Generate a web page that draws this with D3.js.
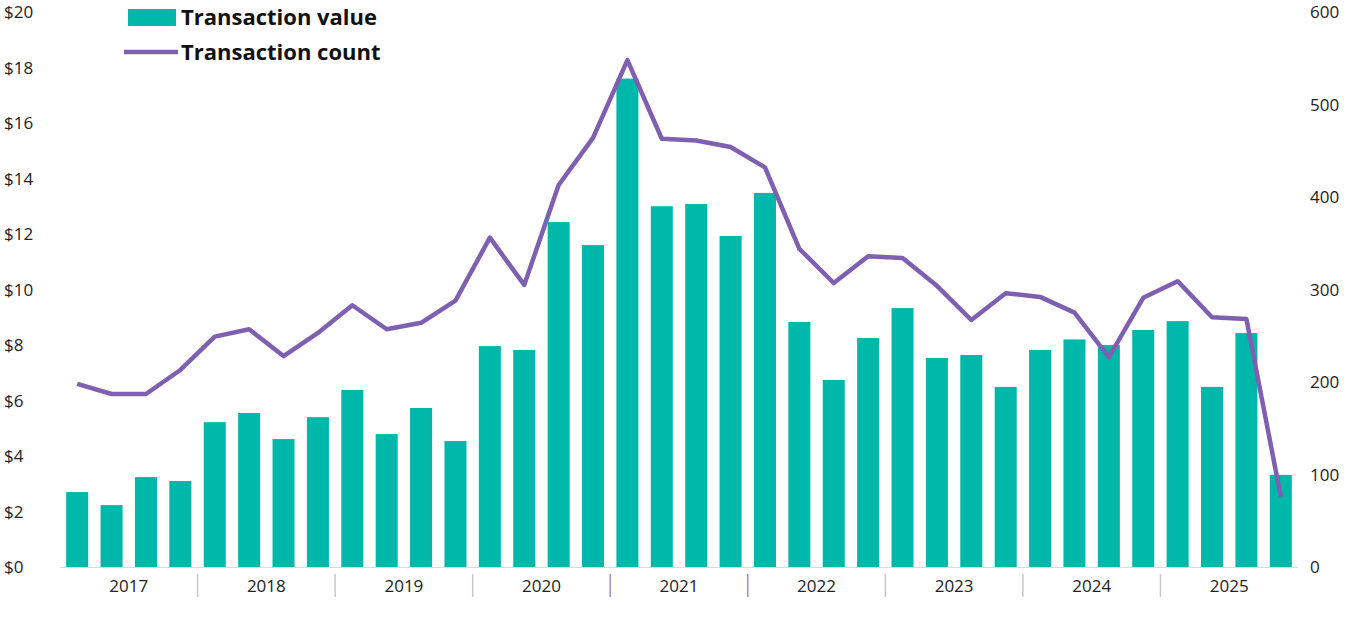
<!DOCTYPE html>
<html><head><meta charset="utf-8">
<script src="https://cdn.jsdelivr.net/npm/d3@7"></script>
<style>body{margin:0;background:#fff;font-family:"Open Sans",sans-serif}</style>
</head><body><svg id="c" width="1360" height="617"></svg>
<script>
const years=["2017","2018","2019","2020","2021","2022","2023","2024","2025"];
const quarters=[];years.forEach(y=>["Q1","Q2","Q3","Q4"].forEach(q=>quarters.push(y+" "+q)));
const txValue=[2.7,2.23,3.24,3.1,5.22,5.55,4.61,5.4,6.38,4.79,5.73,4.54,7.96,7.82,12.43,11.6,17.6,13.0,13.08,11.93,13.48,8.83,6.74,8.25,9.33,7.53,7.64,6.49,7.82,8.2,8.0,8.54,8.86,6.49,8.43,3.32];
const txCount=[198,187,187,213,249,257,228,253,283,257,264,288,356,305,413,464,548,463,461,454,432,344,307,336,334,304,267,296,292,275,227,291,309,270,268,76];
const leftTicks=[0,2,4,6,8,10,12,14,16,18,20];
const rightTicks=[0,100,200,300,400,500,600];

const svg=d3.select("#c");
const x=d3.scaleBand().domain(quarters).range([60,1298]).paddingInner(0.36).paddingOuter(0.18);
const yL=d3.scaleLinear().domain([0,20]).range([567,12]);
const yR=d3.scaleLinear().domain([0,600]).range([567,12]);

svg.append("g").selectAll("text").data(leftTicks).join("text")
 .attr("x",4).attr("y",d=>yL(d)+6).attr("font-size",17).attr("fill","#222").text(d=>"$"+d);
svg.append("g").selectAll("text").data(rightTicks).join("text")
 .attr("x",1310).attr("y",d=>yR(d)+6).attr("font-size",17).attr("fill","#222").text(d=>d);

svg.append("line").attr("x1",60).attr("x2",1298).attr("y1",567.5).attr("y2",567.5).attr("stroke","#d9d9d9");

svg.append("g").selectAll("rect").data(txValue).join("rect")
 .attr("x",(d,i)=>x(quarters[i])).attr("width",x.bandwidth())
 .attr("y",d=>yL(d)).attr("height",d=>yL(0)-yL(d)).attr("fill","#00b8a9");

svg.append("path").datum(txCount).attr("fill","none").attr("stroke","#7f5fb0").attr("stroke-width",4.5)
 .attr("stroke-linejoin","round")
 .attr("d",d3.line().x((d,i)=>x(quarters[i])+x.bandwidth()/2).y(d=>yR(d)));

// year labels & separators
const step=x.step();
years.forEach((y,k)=>{
  const s=x(quarters[k*4])-x.paddingInner()*step/2, e=s+4*step;
  svg.append("text").attr("x",(s+e)/2).attr("y",592).attr("text-anchor","middle").attr("font-size",17).attr("fill","#222").text(y);
  if(k>0) svg.append("line").attr("x1",s).attr("x2",s).attr("y1",574).attr("y2",597)
    .attr("stroke",(y==="2021"||y==="2022")?"#a08cc8":"#c8c8c8").attr("stroke-width",1.5);
});

// legend
const lg=svg.append("g");
lg.append("rect").attr("x",128).attr("y",9).attr("width",48).attr("height",17).attr("fill","#00b8a9");
lg.append("text").attr("x",181).attr("y",25).attr("font-size",22).attr("font-weight","bold").attr("fill","#111").text("Transaction value");
lg.append("line").attr("x1",124).attr("x2",178).attr("y1",52).attr("y2",52).attr("stroke","#7f5fb0").attr("stroke-width",4.5);
lg.append("text").attr("x",181).attr("y",60).attr("font-size",22).attr("font-weight","bold").attr("fill","#111").text("Transaction count");
</script></body></html>
